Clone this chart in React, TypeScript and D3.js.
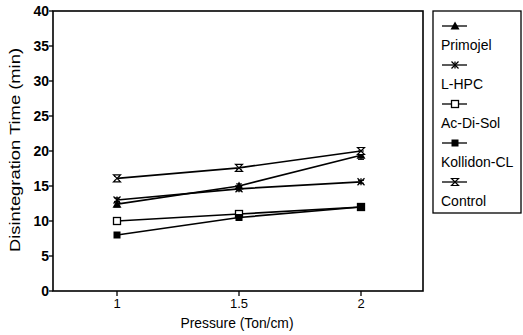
import React from "react";
import * as d3 from "d3";

const pressures = [1, 1.5, 2];
const seriesNames = ["Primojel", "L-HPC", "Ac-Di-Sol", "Kollidon-CL", "Control"];
const primojel = [12.4, 15.0, 19.4];
const lhpc = [13.0, 14.6, 15.6];
const acdisol = [10.0, 11.0, 12.0];
const kollidon = [8.0, 10.5, 12.0];
const control = [16.1, 17.6, 20.0];
const errPrimojel = [0.4, 0.3, 0.6];
const errLhpc = [0.3, 0.3, 0.2];
const errAcdisol = [0.3, 0.4, 0.2];
const errKollidon = [0.2, 0.3, 0.3];
const errControl = [0.3, 0.3, 0.5];
const yTicks = [0, 5, 10, 15, 20, 25, 30, 35, 40];
const xTicks = [1, 1.5, 2];

const seriesValues = [primojel, lhpc, acdisol, kollidon, control];
const seriesErr = [errPrimojel, errLhpc, errAcdisol, errKollidon, errControl];
const markerTypes = ["triangle", "star", "openSquare", "filledSquare", "hourglass"];

function Marker({ type, x, y }: { type: string; x: number; y: number }) {
  const s = 3.5;
  if (type === "triangle") {
    return <path d={`M${x},${y - s - 1}L${x + s + 1},${y + s}L${x - s - 1},${y + s}Z`} fill="#000" />;
  }
  if (type === "star") {
    return (
      <g stroke="#000" strokeWidth={1.3}>
        <line x1={x - s} y1={y - s} x2={x + s} y2={y + s} />
        <line x1={x - s} y1={y + s} x2={x + s} y2={y - s} />
        <line x1={x} y1={y - s} x2={x} y2={y + s} />
      </g>
    );
  }
  if (type === "openSquare") {
    return <rect x={x - s} y={y - s} width={2 * s} height={2 * s} fill="#fff" stroke="#000" strokeWidth={1.3} />;
  }
  if (type === "filledSquare") {
    return <rect x={x - s} y={y - s} width={2 * s} height={2 * s} fill="#000" />;
  }
  return (
    <g stroke="#000" strokeWidth={1.2} fill="#fff">
      <path d={`M${x - s},${y - s}L${x + s},${y - s}L${x - s},${y + s}L${x + s},${y + s}Z`} />
    </g>
  );
}

export default function App() {
  const W = 523;
  const H = 335;
  const left = 53;
  const right = 423;
  const top = 11;
  const bottom = 291;

  const x = d3.scaleLinear().domain([1, 2]).range([117, 361]);
  const y = d3.scaleLinear().domain([0, 40]).range([bottom, top]);
  const line = d3
    .line<number>()
    .x((_, i) => x(pressures[i]))
    .y((d) => y(d));

  const font = "Arial, 'Liberation Sans', Helvetica, sans-serif";

  return (
    <svg width={W} height={H} style={{ position: "absolute", left: 0, top: 0 }} fontFamily={font}>
      <rect x={0} y={0} width={W} height={H} fill="#fff" />
      <rect x={left} y={top} width={right - left} height={bottom - top} fill="none" stroke="#000" strokeWidth={1.6} />
      {yTicks.map((t) => (
        <g key={"y" + t}>
          <line x1={left - 4} x2={left} y1={y(t)} y2={y(t)} stroke="#000" strokeWidth={1.3} />
          <text x={left - 4} y={y(t) + 5} textAnchor="end" fontSize={14} fontWeight="bold">
            {t}
          </text>
        </g>
      ))}
      {xTicks.map((t) => (
        <g key={"x" + t}>
          <line x1={x(t)} x2={x(t)} y1={bottom} y2={bottom + 5} stroke="#000" strokeWidth={1.3} />
          <text x={x(t)} y={bottom + 17} textAnchor="middle" fontSize={13}>
            {t}
          </text>
        </g>
      ))}
      <text x={237} y={328} textAnchor="middle" fontSize={14} textLength={113} lengthAdjust="spacingAndGlyphs">
        Pressure (Ton/cm)
      </text>
      <text
        transform={`translate(20,150) rotate(-90)`}
        textAnchor="middle"
        fontSize={15}
        textLength={204}
        lengthAdjust="spacingAndGlyphs"
      >
        Disintegration Time (min)
      </text>
      {seriesValues.map((vals, si) => (
        <g key={"s" + si}>
          <path d={line(vals) || ""} fill="none" stroke="#000" strokeWidth={1.7} />
          {vals.map((v, i) => {
            const e = seriesErr[si][i];
            const cx = x(pressures[i]);
            return (
              <g key={i}>
                <line x1={cx} x2={cx} y1={y(v + e)} y2={y(v - e)} stroke="#000" strokeWidth={1} />
                <line x1={cx - 3} x2={cx + 3} y1={y(v + e)} y2={y(v + e)} stroke="#000" strokeWidth={1} />
                <line x1={cx - 3} x2={cx + 3} y1={y(v - e)} y2={y(v - e)} stroke="#000" strokeWidth={1} />
                <Marker type={markerTypes[si]} x={cx} y={y(v)} />
              </g>
            );
          })}
        </g>
      ))}
      <rect x={433} y={11} width={88} height={202} fill="none" stroke="#000" strokeWidth={1.3} />
      {seriesNames.map((name, i) => {
        const my = 26 + i * 39;
        return (
          <g key={name}>
            <line x1={442} x2={467} y1={my} y2={my} stroke="#000" strokeWidth={1.3} />
            <Marker type={markerTypes[i]} x={455} y={my} />
            <text x={441} y={my + 24} fontSize={14}>
              {name}
            </text>
          </g>
        );
      })}
    </svg>
  );
}
